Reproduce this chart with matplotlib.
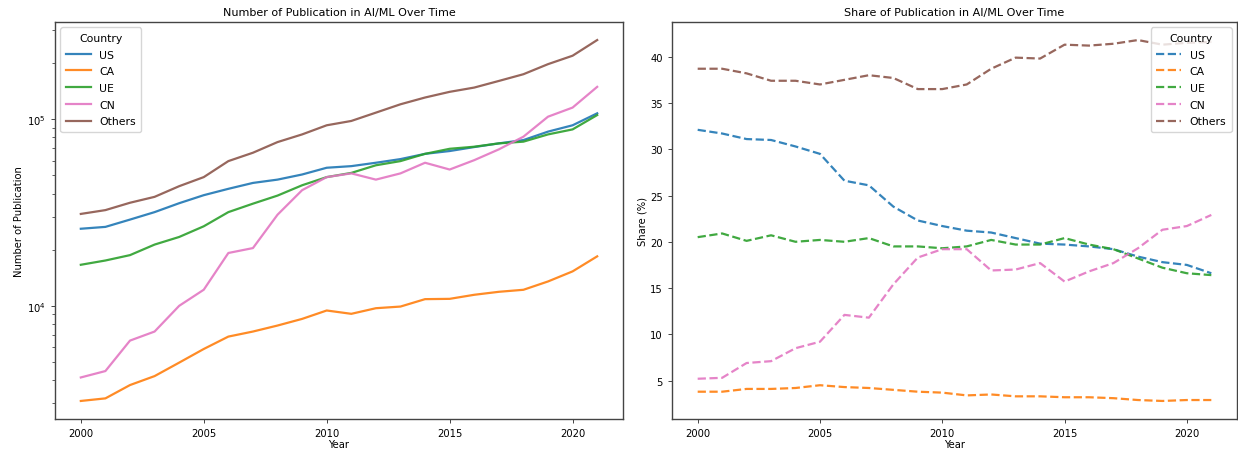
#!/usr/bin/env python3
"""
AI/ML publications per country: absolute counts (log scale) and share of total
"""

import matplotlib
matplotlib.use('Agg')
import matplotlib.pyplot as plt

# Years covered
years = list(range(2000, 2022))

# Number of publications per year
pubs_us = [25900, 26500, 29000, 31800, 35500, 39200, 42400, 45600, 47500, 50600, 55000,
           56100, 58500, 61200, 65300, 67600, 71000, 74300, 77400, 85900, 92900, 107700]
pubs_ca = [3090, 3190, 3760, 4200, 4960, 5870, 6840, 7280, 7840, 8510, 9440,
           9060, 9710, 9910, 10860, 10900, 11460, 11890, 12190, 13510, 15300, 18420]
pubs_ue = [16600, 17500, 18700, 21300, 23400, 26700, 31800, 35300, 39000, 44300, 49000,
           51600, 56700, 59700, 65300, 69500, 71300, 74300, 75900, 83000, 88300, 105400]
pubs_cn = [4130, 4470, 6510, 7280, 10000, 12200, 19200, 20400, 30800, 41700, 49000,
           51300, 47500, 51300, 58500, 53800, 60400, 69000, 80700, 103300, 115600, 149300]
pubs_others = [31100, 32600, 35700, 38400, 43800, 49000, 59700, 66200, 75500, 83000, 92900,
               98000, 108600, 120400, 130900, 140400, 148000, 160600, 174500, 197600, 219300, 266100]

# Share of publications (%) per year
share_us = [32.1, 31.7, 31.1, 31.0, 30.3, 29.5, 26.6, 26.1, 23.8, 22.3, 21.7,
            21.2, 21.0, 20.4, 19.8, 19.7, 19.5, 19.2, 18.4, 17.8, 17.5, 16.6]
share_ca = [3.8, 3.8, 4.1, 4.1, 4.2, 4.5, 4.3, 4.2, 4.0, 3.8, 3.7,
            3.4, 3.5, 3.3, 3.3, 3.2, 3.2, 3.1, 2.9, 2.8, 2.9, 2.9]
share_ue = [20.5, 20.9, 20.1, 20.7, 20.0, 20.2, 20.0, 20.4, 19.5, 19.5, 19.3,
            19.5, 20.2, 19.7, 19.7, 20.4, 19.7, 19.2, 18.2, 17.2, 16.6, 16.4]
share_cn = [5.2, 5.3, 6.9, 7.1, 8.5, 9.2, 12.1, 11.8, 15.4, 18.3, 19.2,
            19.2, 16.9, 17.0, 17.7, 15.7, 16.8, 17.7, 19.3, 21.3, 21.7, 22.9]
share_others = [38.7, 38.7, 38.2, 37.4, 37.4, 37.0, 37.5, 38.0, 37.7, 36.5, 36.5,
                37.0, 38.7, 39.9, 39.8, 41.3, 41.2, 41.4, 41.8, 41.3, 41.5, 41.6]

countries = ['US', 'CA', 'UE', 'CN', 'Others']
colours = ['tab:blue', 'tab:orange', 'tab:green', 'tab:pink', 'tab:brown']

pubs = [pubs_us, pubs_ca, pubs_ue, pubs_cn, pubs_others]
shares = [share_us, share_ca, share_ue, share_cn, share_others]

FONT = 7.2
W, H = 1238, 456

fig = plt.figure(figsize=(W / 100, H / 100), dpi=100)
# axes placed in pixel terms to line up with the reference
ax1 = fig.add_axes([55 / W, 36 / H, 568 / W, 397 / H])
ax2 = fig.add_axes([672 / W, 36 / H, 565 / W, 397 / H])

legend_kw = dict(title='Country', fontsize=7.8, title_fontsize=7.8,
                 labelspacing=0.62, handlelength=2.3, borderpad=0.5)

for name, col, vals in zip(countries, colours, pubs):
    ax1.plot(years, vals, color=col, lw=1.6, alpha=0.9, label=name)
ax1.set_yscale('log')
ax1.set_title('Number of Publication in AI/ML Over Time', fontsize=8.0, pad=5)
ax1.set_xlabel('Year', fontsize=FONT, labelpad=1)
ax1.set_ylabel('Number of Publication', fontsize=FONT, labelpad=2)
ax1.legend(loc='upper left', **legend_kw)

for name, col, vals in zip(countries, colours, shares):
    ax2.plot(years, vals, color=col, lw=1.6, ls='--', alpha=0.9, label=name)
ax2.set_title('Share of Publication in AI/ML Over Time', fontsize=8.0, pad=5)
ax2.set_xlabel('Year', fontsize=FONT, labelpad=1)
ax2.set_ylabel('Share (%)', fontsize=FONT, labelpad=2)
ax2.legend(loc='upper right', **legend_kw)

for ax in (ax1, ax2):
    ax.tick_params(labelsize=FONT, length=3, width=0.7, color='#444444')
    ax.tick_params(which='minor', length=2, width=0.6, color='#444444')
    for sp in ax.spines.values():
        sp.set_color('#444444')
        sp.set_linewidth(1.0)

fig.savefig('out.png', dpi=100)
print("Saved out.png")
